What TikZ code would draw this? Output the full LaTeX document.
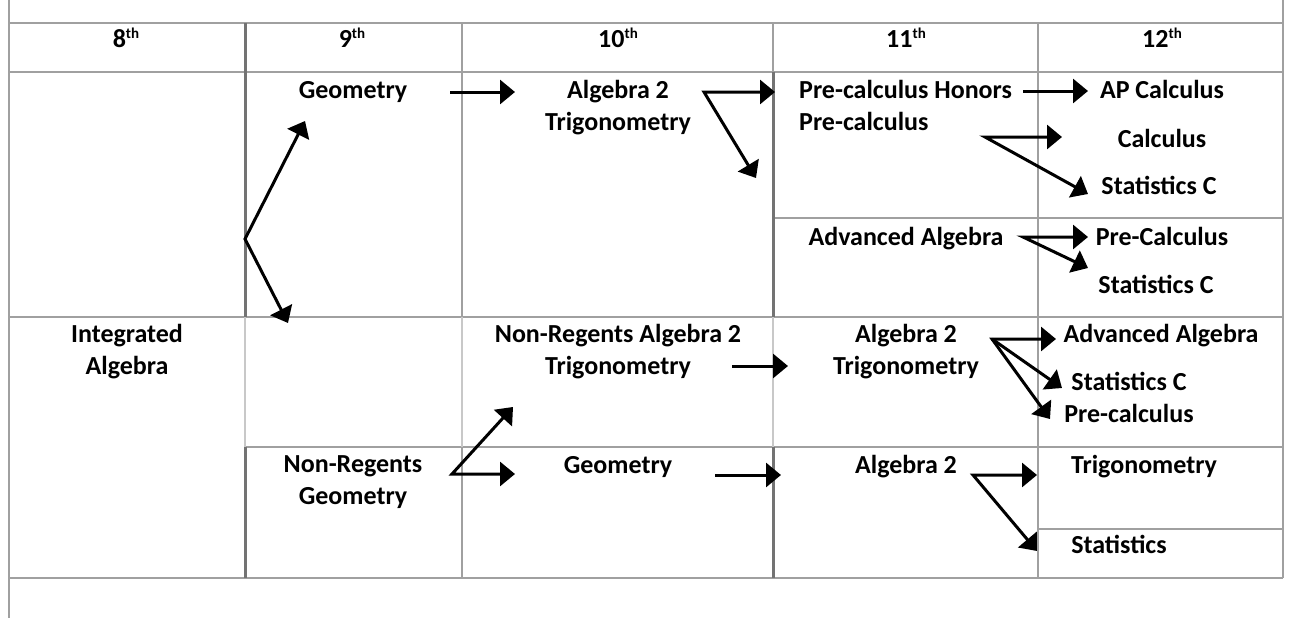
\documentclass[tikz,border=0pt]{standalone}
\usepackage{fontspec}
\setmainfont{Carlito}
\usetikzlibrary{arrows.meta}
\definecolor{gridmid}{RGB}{160,160,160}
\definecolor{griddark}{RGB}{115,115,115}
\definecolor{gridlight}{RGB}{200,200,200}
\newcommand\ordth{\raisebox{9pt}{\fontsize{15}{15}\selectfont th}}
\begin{document}
\begin{tikzpicture}[x=1pt,y=-1pt,
  gl/.style={draw=gridmid, line width=2.5pt},
  gd/.style={draw=griddark, line width=3pt},
  gll/.style={draw=gridlight, line width=2.5pt},
  lbl/.style={font=\bfseries\fontsize{26}{31.5}\selectfont, inner sep=0pt, anchor=base, align=center},
  conn/.style={line width=3pt, line join=miter, {Triangle[length=15pt,width=24pt]}-{Triangle[length=15pt,width=24pt]}},
  conn1/.style={line width=3pt, -{Triangle[length=15pt,width=24pt]}}]
\useasboundingbox (0,0) rectangle (1293,618);
% grid
\draw[gl] (9,23)--(1283,23);
\draw[gl] (9,72)--(1283,72);
\draw[gl] (9,317)--(1283,317);
\draw[gl] (773,218)--(1283,218);
\draw[gl] (245,447)--(1283,447);
\draw[gl] (1038,529)--(1283,529);
\draw[gl] (9,578)--(1283,578);
\draw[gl] (9,0)--(9,618);
\draw[gl] (1283,0)--(1283,578);
\draw[gd] (245,23)--(245,317);
\draw[gll] (245,317)--(245,447);
\draw[gd] (245,447)--(245,578);
\draw[gl] (462,23)--(462,317);
\draw[gll] (462,317)--(462,447);
\draw[gl] (462,447)--(462,578);
\draw[gl] (773,23)--(773,72);
\draw[gd] (773,72)--(773,317);
\draw[gll] (773,317)--(773,447);
\draw[gd] (773,447)--(773,578);
\draw[gl] (1038,23)--(1038,578);
% headers
\node[lbl] (h8) at (126,48) {8\ordth};
\node[lbl] (h9) at (352,48) {9\ordth};
\node[lbl] (h10) at (618,48) {10\ordth};
\node[lbl] (h11) at (906,48) {11\ordth};
\node[lbl] (h12) at (1162,48) {12\ordth};
% courses (multi-line nodes: base = last line's baseline)
\node[lbl] (geo9) at (353,98) {Geometry};
\node[lbl] (alg10) at (618,130) {Algebra 2\\Trigonometry};
\node[lbl, anchor=base west, align=left] (pch) at (799,130) {Pre-calculus Honors\\Pre-calculus};
\node[lbl] (apc) at (1162,98) {AP Calculus};
\node[lbl] (calc) at (1162,147) {Calculus};
\node[lbl] (stc1) at (1159,194) {Statistics C};
\node[lbl] (adv11) at (906,245) {Advanced Algebra};
\node[lbl] (prec12) at (1162,245) {Pre-Calculus};
\node[lbl] (stc2) at (1156,293) {Statistics C};
\node[lbl] (ia) at (127,374) {Integrated\\Algebra};
\node[lbl] (nra2) at (618,374) {Non-Regents Algebra 2\\Trigonometry};
\node[lbl] (a2t11) at (906,374) {Algebra 2\\Trigonometry};
\node[lbl] (adv12) at (1161,342) {Advanced Algebra};
\node[lbl] (stc3) at (1129,390) {Statistics C};
\node[lbl] (prc3) at (1129,422) {Pre-calculus};
\node[lbl] (nrg) at (353,504) {Non-Regents\\Geometry};
\node[lbl] (geo10) at (618,473) {Geometry};
\node[lbl] (alg11) at (906,473) {Algebra 2};
\node[lbl] (trig12) at (1144,473) {Trigonometry};
\node[lbl] (stat12) at (1119,553) {Statistics};
% connector points
\coordinate (f9) at (245,239);
\coordinate (t9a) at (305,121);
\coordinate (t9b) at (288,323);
\coordinate (s1) at (450,92);
\coordinate (t1) at (515,92);
\coordinate (f3) at (704,92);
\coordinate (t3a) at (775,92);
\coordinate (t3b) at (756,178);
\coordinate (s4) at (1023,91);
\coordinate (t4) at (1088,91);
\coordinate (f5) at (985,137);
\coordinate (t5a) at (1062,137);
\coordinate (t5b) at (1088,194);
\coordinate (f6) at (1023,237);
\coordinate (t6a) at (1088,237);
\coordinate (t6b) at (1088,268);
\coordinate (s7) at (732,366);
\coordinate (t7) at (788,366);
\coordinate (f8) at (992,339);
\coordinate (t8a) at (1056,339);
\coordinate (t8b) at (1062,388);
\coordinate (t8c) at (1050,419);
\coordinate (f9b) at (452,474);
\coordinate (t9c) at (513,407);
\coordinate (t9d) at (515,474);
\coordinate (s10) at (715,475);
\coordinate (t10) at (781,475);
\coordinate (f11) at (973,475);
\coordinate (t11a) at (1037,475);
\coordinate (t11b) at (1037,551);
% connectors
\draw[conn] (t9a) -- (f9) -- (t9b);
\draw[conn1] (s1) -- (t1);
\draw[conn] (t3a) -- (f3) -- (t3b);
\draw[conn1] (s4) -- (t4);
\draw[conn] (t5a) -- (f5) -- (t5b);
\draw[conn] (t6a) -- (f6) -- (t6b);
\draw[conn1] (s7) -- (t7);
\draw[conn] (t8a) -- (f8) -- (t8c);
\draw[conn1] (f8) -- (t8b);
\draw[conn] (t9c) -- (f9b) -- (t9d);
\draw[conn1] (s10) -- (t10);
\draw[conn] (t11a) -- (f11) -- (t11b);
\end{tikzpicture}
\end{document}
